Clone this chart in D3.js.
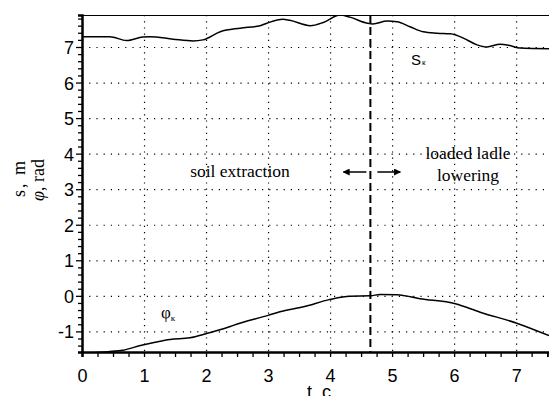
<!DOCTYPE html>
<html>
<head>
<meta charset="utf-8">
<script src="https://cdn.jsdelivr.net/npm/d3@7/dist/d3.min.js"></script>
<style>
  body { margin: 0; background: #fff; }
  svg { display: block; }
  .tick-label { font-family: "Liberation Sans", Arial, sans-serif; font-size: 18px; fill: #000; }
  .serif { font-family: "Liberation Serif", "Times New Roman", serif; fill: #000; }
</style>
</head>
<body>
<div id="chart"></div>
<script>
// s_k curve (t, metres)
var sTime = [0, 0.45, 0.72, 0.98, 1.10, 1.47, 1.79, 1.95, 2.23, 2.55, 2.87, 2.98, 3.24, 3.35,
  3.68, 3.89, 4.16, 4.32, 4.60, 4.69, 4.92, 5.08, 5.29, 5.50, 5.73, 5.94, 6.15, 6.37,
  6.53, 6.74, 6.90, 7.06, 7.53];
var sValues = [7.29, 7.29, 7.18, 7.28, 7.29, 7.22, 7.17, 7.20, 7.43, 7.53, 7.60, 7.67, 7.78, 7.75,
  7.60, 7.69, 7.90, 7.84, 7.67, 7.65, 7.73, 7.71, 7.57, 7.43, 7.39, 7.37, 7.25, 7.06,
  7.00, 7.08, 7.04, 6.97, 6.95];

// phi_k curve (t, rad)
var phiTime = [0, 0.42, 0.66, 0.96, 1.20, 1.42, 1.74, 2.01, 2.33, 2.44, 3.0, 3.19, 3.57, 4.0,
  4.32, 4.65, 4.81, 5.08, 5.45, 6.02, 6.42, 7.01, 7.53];
var phiValues = [-1.62, -1.57, -1.53, -1.39, -1.30, -1.23, -1.18, -1.06, -0.90, -0.83, -0.55, -0.45,
  -0.31, -0.10, -0.01, 0.0, 0.04, 0.03, -0.08, -0.22, -0.46, -0.77, -1.12];

var xTicks = [0, 1, 2, 3, 4, 5, 6, 7];
var yTicks = [-1, 0, 1, 2, 3, 4, 5, 6, 7];
var boundary = 4.65;

var width = 549,
    height = 396,
    margin = {top: 15, right: 0, bottom: 44, left: 82};

var x = d3.scaleLinear()
    .domain([0, 7.53])
    .range([margin.left, width - margin.right]);

var y = d3.scaleLinear()
    .domain([-1.58, 7.9])
    .range([height - margin.bottom, margin.top]);

var svg = d3.select("#chart").append("svg")
    .attr("width", width)
    .attr("height", height);

svg.append("defs").append("clipPath")
    .attr("id", "plot-clip")
  .append("rect")
    .attr("x", x(0))
    .attr("y", y(7.9))
    .attr("width", x(7.53) - x(0))
    .attr("height", y(-1.58) - y(7.9));

var marker = svg.select("defs").append("marker")
    .attr("id", "arrow")
    .attr("viewBox", "0 0 10 10")
    .attr("refX", 9)
    .attr("refY", 5)
    .attr("markerWidth", 7)
    .attr("markerHeight", 7)
    .attr("markerUnits", "userSpaceOnUse")
    .attr("orient", "auto");
marker.append("path")
    .attr("d", "M0,0L10,5L0,10z")
    .attr("fill", "#000");

// dotted grid
svg.append("g")
    .selectAll("line")
    .data(yTicks)
  .enter().append("line")
    .attr("x1", x(0))
    .attr("x2", x(7.53))
    .attr("y1", function(d) { return y(d) + 0.5; })
    .attr("y2", function(d) { return y(d) + 0.5; })
    .attr("stroke", "#000")
    .attr("stroke-width", 1.2)
    .attr("stroke-dasharray", "1.2,6");

svg.append("g")
    .selectAll("line")
    .data(xTicks.slice(1))
  .enter().append("line")
    .attr("x1", function(d) { return x(d) + 0.5; })
    .attr("x2", function(d) { return x(d) + 0.5; })
    .attr("y1", y(7.9))
    .attr("y2", y(-1.58))
    .attr("stroke", "#000")
    .attr("stroke-width", 1.2)
    .attr("stroke-dasharray", "1.2,5");

// top frame line
svg.append("line")
    .attr("x1", x(0))
    .attr("x2", width)
    .attr("y1", y(7.9) + 0.5)
    .attr("y2", y(7.9) + 0.5)
    .attr("stroke", "#000")
    .attr("stroke-width", 1.2);

// curves
var line = d3.line()
    .x(function(d) { return x(d[0]); })
    .y(function(d) { return y(d[1]); })
    .curve(d3.curveMonotoneX);

svg.append("path")
    .datum(d3.zip(sTime, sValues))
    .attr("clip-path", "url(#plot-clip)")
    .attr("fill", "none")
    .attr("stroke", "#000")
    .attr("stroke-width", 1.5)
    .attr("d", line);

svg.append("path")
    .datum(d3.zip(phiTime, phiValues))
    .attr("clip-path", "url(#plot-clip)")
    .attr("fill", "none")
    .attr("stroke", "#000")
    .attr("stroke-width", 1.5)
    .attr("d", line);

// boundary between phases
svg.append("line")
    .attr("x1", x(boundary))
    .attr("x2", x(boundary))
    .attr("y1", y(7.9))
    .attr("y2", y(-1.58))
    .attr("stroke", "#000")
    .attr("stroke-width", 2)
    .attr("stroke-dasharray", "8,4");

// axes
var xAxis = d3.axisBottom(x)
    .tickValues(d3.range(0, 7.6, 0.25))
    .tickSize(5)
    .tickFormat(function(d) { return xTicks.indexOf(d) >= 0 ? d : ""; });

var gx = svg.append("g")
    .attr("transform", "translate(0," + y(-1.58) + ")")
    .call(xAxis);
gx.select(".domain").attr("stroke-width", 2.5);
gx.selectAll(".tick line").attr("stroke-width", 1.3);
gx.selectAll(".tick text")
    .attr("class", "tick-label")
    .attr("font-family", null)
    .attr("font-size", null)
    .attr("dy", null)
    .attr("y", 30);

var yAxis = d3.axisLeft(y)
    .tickValues(d3.range(-1.4, 7.9, 0.2).map(function(d) { return Math.round(d * 10) / 10; }))
    .tickSize(4)
    .tickFormat(function(d) { return yTicks.indexOf(d) >= 0 ? d : ""; });

var gy = svg.append("g")
    .attr("transform", "translate(" + x(0) + ",0)")
    .call(yAxis);
gy.select(".domain").attr("stroke-width", 2.5);
gy.selectAll(".tick line")
    .attr("stroke-width", 1.3)
    .attr("x2", function(d) { return yTicks.indexOf(d) >= 0 ? -6 : -4; });
gy.selectAll(".tick text")
    .attr("class", "tick-label")
    .attr("font-family", null)
    .attr("font-size", null)
    .attr("x", -8)
    .attr("dy", "0.36em");

// axis titles
svg.append("text")
    .attr("class", "tick-label")
    .attr("x", 319)
    .attr("y", 398)
    .attr("text-anchor", "middle")
    .text("t, c");

svg.append("text")
    .attr("class", "serif")
    .attr("transform", "translate(25,178) rotate(-90)")
    .attr("text-anchor", "middle")
    .attr("font-size", 18)
    .attr("letter-spacing", 2)
    .text("s, m");

var phiTitle = svg.append("text")
    .attr("class", "serif")
    .attr("transform", "translate(44,180) rotate(-90)")
    .attr("text-anchor", "middle")
    .attr("font-size", 18);
phiTitle.append("tspan").attr("font-style", "italic").text("φ");
phiTitle.append("tspan").text(", rad");

// phase annotations
svg.append("text")
    .attr("class", "serif")
    .attr("x", 240)
    .attr("y", 177)
    .attr("text-anchor", "middle")
    .attr("font-size", 17.5)
    .text("soil extraction");

svg.append("text")
    .attr("class", "serif")
    .attr("x", 468)
    .attr("y", 159)
    .attr("text-anchor", "middle")
    .attr("font-size", 17.5)
    .text("loaded ladle");

svg.append("text")
    .attr("class", "serif")
    .attr("x", 468)
    .attr("y", 181)
    .attr("text-anchor", "middle")
    .attr("font-size", 17.5)
    .text("lowering");

svg.append("line")
    .attr("x1", x(boundary) - 4)
    .attr("x2", x(boundary) - 27)
    .attr("y1", 172)
    .attr("y2", 172)
    .attr("stroke", "#000")
    .attr("stroke-width", 1.5)
    .attr("marker-end", "url(#arrow)");

svg.append("line")
    .attr("x1", x(boundary) + 7)
    .attr("x2", x(boundary) + 30)
    .attr("y1", 172)
    .attr("y2", 172)
    .attr("stroke", "#000")
    .attr("stroke-width", 1.5)
    .attr("marker-end", "url(#arrow)");

// curve labels
var sLabel = svg.append("text")
    .attr("x", 411)
    .attr("y", 65)
    .attr("font-family", "Liberation Sans, Arial, sans-serif")
    .attr("font-size", 15);
sLabel.append("tspan").text("S");
sLabel.append("tspan").attr("font-size", 8).attr("dx", 1).text("к");

var phiLabel = svg.append("text")
    .attr("class", "serif")
    .attr("x", 161)
    .attr("y", 318)
    .attr("font-size", 17);
phiLabel.append("tspan").text("φ");
phiLabel.append("tspan").attr("font-size", 9).attr("dy", 3).text("к");
</script>
</body>
</html>
